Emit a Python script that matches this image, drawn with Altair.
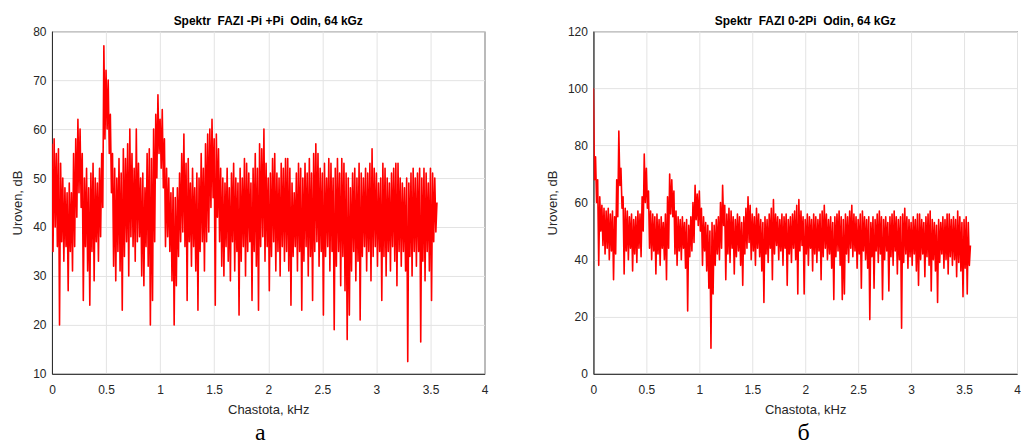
import altair as alt
import pandas as pd

# ---- data (dB levels per 0.02 kHz bin: local max / local min) ----
bin_khz = 0.02
end_khz = 3.56

left_hi = [57,58,55,56,53,50,48,47,49,47,
           55,58,62,60,55,50,52,48,51,53,
           50,49,52,55,77,72,70,63,55,52,
           50,54,51,56,54,57,60,55,52,60,
           53,50,51,48,55,56,54,60,63,67,
           62,64,58,52,50,47,48,46,48,51,
           55,59,53,54,49,52,48,51,50,55,
           52,57,59,60,62,58,59,56,52,50,
           49,52,48,51,53,50,49,52,50,54,
           53,51,49,52,55,52,57,56,60,53,
           50,51,54,55,51,50,53,52,54,54,
           52,49,47,51,53,52,50,53,51,54,
           51,55,57,55,52,51,53,50,54,53,
           50,52,54,51,54,53,51,50,48,51,
           52,50,53,51,50,52,51,53,56,52,
           51,49,50,53,52,50,49,51,52,53,
           53,50,49,48,50,49,51,52,50,51,
           52,50,52,51,49,52,51,50]
left_lo = [35,40,36,20,37,33,36,27,35,31,
           36,42,47,44,25,36,31,24,35,29,
           37,33,38,44,58,60,55,47,32,29,
           35,31,23,34,37,30,38,36,33,37,
           38,30,28,36,32,20,25,37,50,55,
           52,48,36,38,35,29,20,28,34,37,
           39,36,25,37,32,36,31,23,35,37,
           31,37,39,44,46,24,42,37,32,30,
           36,33,29,37,31,35,22,33,36,30,
           35,37,25,35,32,23,36,38,33,36,
           27,34,37,31,35,30,36,33,35,31,
           24,34,36,31,35,23,33,36,30,34,
           25,35,37,32,35,22,34,36,31,35,
           19,32,35,28,34,27,17,22,31,35,
           29,33,21,34,36,31,35,29,34,36,
           32,35,25,34,30,35,31,36,33,28,
           35,32,35,31,12.5,34,30,35,32,35,
           16.5,33,29,35,31,25,37,39]
left_end = 45

right_hi = [100,76,68,62,59,58,57,58,56,57,
            55,68,85,72,62,58,57,55,56,54,
            55,57,56,62,77,72,64,57,56,55,
            56,54,55,53,56,62,70,68,64,57,
            55,54,55,53,54,52,55,60,66,63,
            64,58,55,53,52,50,53,52,54,55,
            60,66,59,56,58,57,55,54,56,55,
            53,55,58,62,59,56,55,58,56,54,
            53,55,54,56,58,61,56,55,54,56,
            55,56,54,55,56,57,59,61,57,55,
            54,56,55,54,56,55,54,56,57,59,
            56,54,55,53,55,56,57,55,54,56,
            55,57,59,56,55,54,56,57,55,54,
            55,53,55,54,56,57,55,54,55,53,
            55,56,57,55,54,55,56,58,55,54,
            53,55,54,56,56,54,53,55,56,57,
            54,53,52,54,53,55,54,56,56,54,
            55,54,57,55,53,54,55,53]
right_lo = [68,60,38,50,45,42,44,40,43,33,
            42,55,66,58,35,43,40,44,36,42,
            39,44,41,50,60,58,44,40,43,35,
            42,38,44,40,33,44,56,55,42,38,
            43,40,44,37,22,41,43,46,54,52,
            50,38,43,36,30,9,28,38,42,40,
            44,52,33,42,39,44,35,41,43,38,
            31,42,44,46,40,43,38,44,41,36,
            25,42,39,44,33,42,45,40,43,38,
            44,31,42,39,44,40,28,43,45,28,
            42,38,44,36,42,39,43,33,41,44,
            40,42,37,26,41,43,38,26,28,42,
            39,44,41,43,37,42,30,43,40,37,
            19,41,30,43,39,42,26,40,43,29,
            41,38,43,35,40,16,39,42,37,41,
            38,42,36,31,40,42,34,41,38,29,
            40,36,25,39,42,37,40,35,41,38,
            40,34,39,36,27,37,28,38]
right_end = 45

titles = ["Spektr\u00a0 FAZI -Pi +Pi\u00a0 Odin, 64 kGz",
          "Spektr\u00a0 FAZI 0-2Pi\u00a0 Odin, 64 kGz"]
letters = ["а", "б"]
x_ticks = [0, 0.5, 1, 1.5, 2, 2.5, 3, 3.5, 4]
left_y = [10, 20, 30, 40, 50, 60, 70, 80]
right_y = [0, 20, 40, 60, 80, 100, 120]

H = 343


def series(hi, lo, end):
    xs, ys = [], []
    for i, (h, l) in enumerate(zip(hi, lo)):
        xs += [round(i * bin_khz, 3), round(i * bin_khz + bin_khz / 2, 3)]
        ys += [h, l]
    xs.append(end_khz)
    ys.append(end)
    return pd.DataFrame({"f": xs, "db": ys, "o": list(range(len(xs)))})


def panel(df, title, yvals, letter, w, letter_x):
    x = alt.X("f:Q", scale=alt.Scale(domain=[0, 4], nice=False, zero=False),
              axis=alt.Axis(values=x_ticks, format="~g", title="Chastota, kHz",
                            labelFlush=False))
    y = alt.Y("db:Q", scale=alt.Scale(domain=[yvals[0], yvals[-1]], nice=False, zero=False),
              axis=alt.Axis(values=yvals, title="Uroven, dB"))
    line = alt.Chart(df).mark_line(color="#ff0000", strokeWidth=1.6, strokeJoin="round",
                                   clip=True).encode(x=x, y=y, order="o:Q")
    lab = alt.Chart(pd.DataFrame({"t": [letter]})).mark_text(
        font="Liberation Serif", fontSize=24, baseline="alphabetic", align="center",
        color="#000000").encode(x=alt.value(letter_x), y=alt.value(H + 66), text="t:N")
    return alt.layer(line, lab).properties(
        width=w, height=H,
        title=alt.TitleParams(title, fontSize=12, fontWeight="bold", font="Liberation Sans",
                              color="#000000", offset=-3, anchor="middle"))


left = panel(series(left_hi, left_lo, left_end), titles[0], left_y, letters[0], 433, 208.5)
right = panel(series(right_hi, right_lo, right_end), titles[1], right_y, letters[1], 424, 210.5)

chart = alt.hconcat(left, right, spacing=57).properties(
    padding={"left": 3, "top": 6, "right": 0, "bottom": 0}
).configure_axis(
    labelFont="Liberation Sans", labelFontSize=12, labelColor="#262626",
    titleFont="Liberation Sans", titleFontSize=13, titleFontWeight="normal",
    titleColor="#262626", gridColor="#e3e3e3", domainColor="#262626",
    ticks=False
).configure_axisX(labelPadding=11, titlePadding=8).configure_axisY(
    labelPadding=6, titlePadding=8
).configure_view(stroke="#262626", strokeWidth=1)

chart.save("out.html", embed_options={"renderer": "svg", "actions": False})
